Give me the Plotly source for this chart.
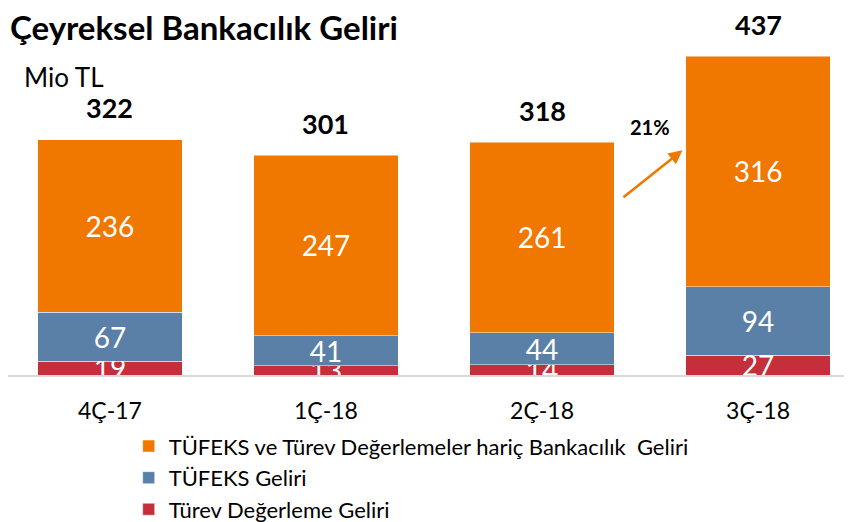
import plotly.graph_objects as go

categories = ["4Ç-17", "1Ç-18", "2Ç-18", "3Ç-18"]
turev = [19, 13, 14, 27]
tufeks = [67, 41, 44, 94]
diger = [236, 247, 261, 316]
totals = [322, 301, 318, 437]
series_names = [
    "Türev Değerleme Geliri",
    "TÜFEKS Geliri",
    "TÜFEKS ve Türev Değerlemeler hariç Bankacılık  Geliri",
]
colors = ["#C42F3B", "#5B80A8", "#F07800"]
growth_label = "21%"

FONT = "Lato"
x_idx = list(range(len(categories)))

fig = go.Figure()
for vals, name, col in zip([turev, tufeks, diger], series_names, colors):
    fig.add_trace(go.Bar(
        x=x_idx, y=vals, name=name,
        marker=dict(color=col, line=dict(color="rgba(255,255,255,0.6)", width=0.8)),
        width=0.667,
        text=[str(v) for v in vals],
        textposition="inside",
        insidetextanchor="middle",
        constraintext="none",
        textangle=0,
        textfont=dict(family=FONT, size=28, color="white"),
        cliponaxis=True,
    ))

for i, t in enumerate(totals):
    fig.add_annotation(x=i, y=t, text=f"<b>{t}</b>", showarrow=False,
                       yshift=32, font=dict(family=FONT, size=27, color="black"))

# growth arrow between the last two bars
fig.add_annotation(x=2.65, y=308, ax=2.37, ay=242,
                   axref="x", ayref="y", xref="x", yref="y",
                   showarrow=True, arrowhead=2, arrowsize=1.1, arrowwidth=2.5,
                   arrowcolor="#F07800", text="", standoff=0, startstandoff=0)
fig.add_annotation(x=2.50, y=340, text=f"<b>{growth_label}</b>",
                   showarrow=False, font=dict(family=FONT, size=20, color="black"))

fig.add_annotation(xref="paper", yref="paper", x=0.0, y=1.0, yshift=13,
                   xanchor="left", yanchor="middle",
                   text="<b>Çeyreksel Bankacılık Geliri</b>", showarrow=False,
                   font=dict(family=FONT, size=33, color="black"))
fig.add_annotation(xref="paper", yref="paper", x=0.0166, y=0.89,
                   xanchor="left", yanchor="middle",
                   text="Mio TL", showarrow=False,
                   font=dict(family=FONT, size=26, color="black"))

fig.update_layout(
    width=844, height=514,
    barmode="stack",
    plot_bgcolor="white", paper_bgcolor="white",
    margin=dict(l=0, r=0, t=32, b=147, autoexpand=False),
    xaxis=dict(range=[-0.472, 3.435], tickvals=x_idx, ticktext=categories,
               showgrid=False, zeroline=False, showline=True,
               linecolor="#D9D9D9", linewidth=2, ticks="",
               ticklabelstandoff=14, automargin=False,
               tickfont=dict(family=FONT, size=23, color="black")),
    yaxis=dict(range=[0, 459], visible=False, automargin=False),
    showlegend=True,
    legend=dict(traceorder="reversed", orientation="v",
                x=0.143, y=-0.150, xanchor="left", yanchor="top",
                font=dict(family=FONT, size=22, color="black"),
                itemwidth=30, tracegroupgap=0, bgcolor="rgba(0,0,0,0)"),
    uniformtext=dict(mode=False),
)

fig.write_html("out.html")
